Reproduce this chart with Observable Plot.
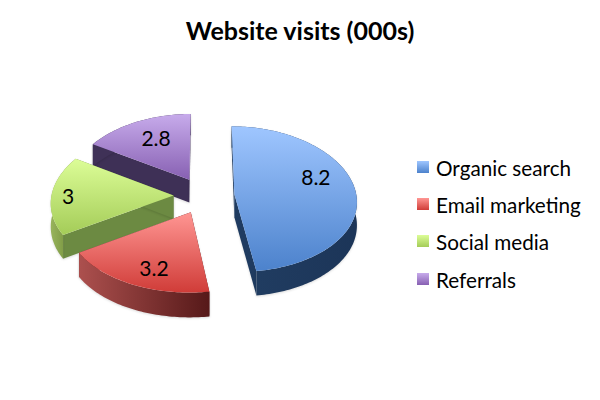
<!DOCTYPE html>
<html>
<head>
<meta charset="utf-8">
<script src="https://cdn.jsdelivr.net/npm/d3@7"></script>
<script src="https://cdn.jsdelivr.net/npm/@observablehq/plot@0.6"></script>
<style>
  html, body { margin: 0; padding: 0; background: #fff; width: 600px; height: 400px; overflow: hidden; font-family: Lato, "Noto Sans", sans-serif; color: #000; }
  #wrap { position: relative; width: 600px; height: 400px; }
  #title { position: absolute; left: 0; width: 600px; top: 15px; text-align: center; font-size: 25px; line-height: 30px; font-weight: 700; }
  #legend { position: absolute; left: 417px; top: 149px; }
  .row { display: flex; align-items: center; height: 37.3px; font-size: 20.7px; }
  .sw { width: 12px; height: 12px; margin-right: 7px; position: relative; top: -1px; }
  svg { position: absolute; left: 0; top: 0; }
  .wall path { filter: drop-shadow(0.5px 1px 1px rgba(0,0,0,.14)); }
</style>
</head>
<body>
<div id="wrap">
  <div id="chart"></div>
  <div id="title">Website visits (000s)</div>
  <div id="legend"></div>
</div>
<script>
const categories = ["Organic search", "Email marketing", "Social media", "Referrals"];
const visits = [8.2, 3.2, 3, 2.8];
const valueLabels = ["8.2", "3.2", "3", "2.8"];

const topStops = [["#9fc6ff", "#4c82cc"], ["#ff9693", "#d03c38"], ["#dcfd97", "#a4cc58"], ["#c7abeb", "#8760b2"]];
const arcStops = [["#213e63", "#1c3558"], ["#ac504e", "#561919"], ["#98b45c", "#6a8633"], ["#3f3157", "#3f3157"]];
const radialFill = ["#1f3b60", "#561919", "#6c8a42", "#3e3056"];
const labelNudge = [[3, -12], [0, 11], [-26, 2], [2, -2]];

// Projection of the tilted disc
const cx = 203.5, cy = 195, rx = 122, ry = 73, bow = 5, persp = 0.09, explode = 0.25, depth = 23;
const sx = (X, Z) => cx + rx * X * (1 + persp * Z);
const sy = (Z, drop = 0) => cy + ry * Z + bow * Z * Z + drop * (depth + 1.5 * Z);

const pie = d3.pie().sort(null).value(d => d)(visits);
const slices = pie.map((p, i) => {
  const mid = (p.startAngle + p.endAngle) / 2;
  const ox = explode * Math.sin(mid), oz = -explode * Math.cos(mid);
  const at = (r, a) => [ox + r * Math.sin(a), oz - r * Math.cos(a)];
  const n = Math.ceil((p.endAngle - p.startAngle) / 0.02);
  const arc = d3.range(n + 1).map(k => at(1, p.startAngle + (p.endAngle - p.startAngle) * k / n));
  return { i, mid, at, arc, apex: [ox, oz] };
});
const pt = (P, drop = 0) => ({ x: sx(P[0], P[1]), y: sy(P[1], drop) });
const band = pts => [...pts.map(P => pt(P)), ...pts.slice().reverse().map(P => pt(P, 1))];
const poly = (data, fill, extra = {}) => Plot.line(data, { x: "x", y: "y", curve: "linear-closed", fill, stroke: "none", ...extra });

const defs = () => {
  const ns = "http://www.w3.org/2000/svg";
  const d = document.createElementNS(ns, "defs");
  const grad = (id, a, b, horiz) => {
    const g = document.createElementNS(ns, "linearGradient");
    g.setAttribute("id", id);
    g.setAttribute("x1", 0); g.setAttribute("y1", 0);
    g.setAttribute("x2", horiz ? 1 : 0); g.setAttribute("y2", horiz ? 0 : 1);
    [[0, a], [1, b]].forEach(([o, c]) => {
      const s = document.createElementNS(ns, "stop");
      s.setAttribute("offset", o); s.setAttribute("stop-color", c);
      g.appendChild(s);
    });
    d.appendChild(g);
  };
  categories.forEach((_, i) => {
    grad("top" + i, topStops[i][0], topStops[i][1], false);
    grad("arc" + i, arcStops[i][0], arcStops[i][1], true);
  });
  return d;
};

const drawOrder = [3, 2, 1, 0];
const marks = [defs];
for (const i of drawOrder) {
  const s = slices[i];
  const first = s.arc[0], last = s.arc[s.arc.length - 1];
  marks.push(poly(band([s.apex, first]), radialFill[i], { className: "wall" }));
  marks.push(poly(band([s.apex, last]), radialFill[i], { className: "wall" }));
  marks.push(poly(band(s.arc), `url(#arc${i})`, { className: "wall" }));
  marks.push(poly([s.apex, ...s.arc].map(P => pt(P)), `url(#top${i})`));
}
slices.forEach(s => {
  const P = s.at(0.65, s.mid);
  marks.push(Plot.text([valueLabels[s.i]], {
    x: () => sx(P[0], P[1]), y: () => sy(P[1]), text: d => d,
    dx: labelNudge[s.i][0], dy: labelNudge[s.i][1],
    fontSize: 21, fontFamily: "Lato, sans-serif", fill: "#000"
  }));
});

const plot = Plot.plot({
  width: 600, height: 400, margin: 0,
  x: { domain: [0, 600], range: [0, 600], axis: null },
  y: { domain: [0, 400], range: [0, 400], axis: null },
  style: { background: "transparent" },
  marks
});
document.getElementById("chart").appendChild(plot);

const legend = document.getElementById("legend");
categories.forEach((c, i) => {
  const row = document.createElement("div");
  row.className = "row";
  const sw = document.createElement("span");
  sw.className = "sw";
  sw.style.background = `linear-gradient(${topStops[i][0]}, ${topStops[i][1]})`;
  const t = document.createElement("span");
  t.textContent = c;
  row.append(sw, t);
  legend.appendChild(row);
});
</script>
</body>
</html>
